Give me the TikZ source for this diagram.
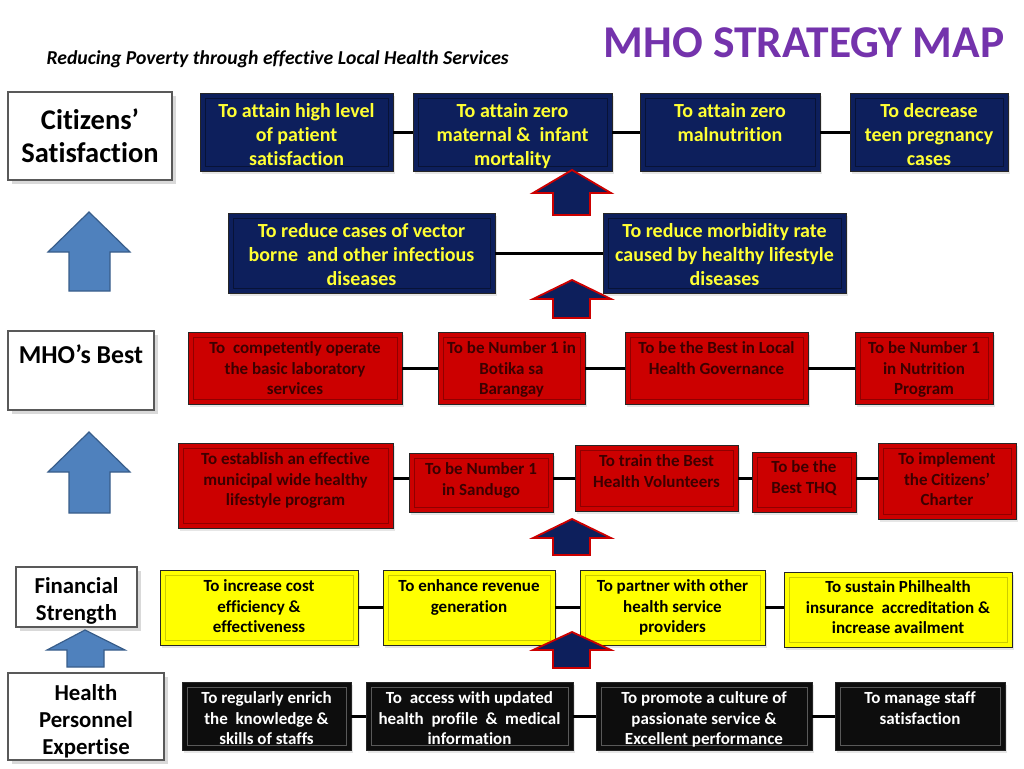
\documentclass[tikz,border=0pt]{standalone}
\usepackage{fontspec}
\setmainfont[Ligatures=NoCommon]{Carlito}
\usetikzlibrary{calc,shadows}
\definecolor{navyfill}{HTML}{0D1F5C}
\definecolor{navytext}{HTML}{FFFF33}
\definecolor{redfill}{HTML}{CC0000}
\definecolor{redtext}{HTML}{3C0000}
\definecolor{yelfill}{HTML}{FFFF00}
\definecolor{arrowblue}{HTML}{4F81BD}
\definecolor{arrowedge}{HTML}{385D8A}
\definecolor{titlepurple}{HTML}{7433AC}
\begin{document}
\begin{tikzpicture}[x=1pt,y=-1pt,
	catbox/.style={draw=gray!70!black, line width=1.2pt, fill=white, inner sep=0pt, align=center,
		drop shadow={opacity=0.3, shadow xshift=4pt, shadow yshift=-4pt}, text=black},
	bevel/.style={path picture={\draw[#1, line width=1pt]
		($(path picture bounding box.south west)+(5,-5)$) rectangle
		($(path picture bounding box.north east)+(-5,5)$);}},
	goal/.style={draw=black!85, line width=0.8pt, inner sep=0pt,
		drop shadow={opacity=0.2, shadow xshift=2pt, shadow yshift=-3pt}},
	navybox/.style={goal, fill=navyfill, bevel=navyfill!60!black},
	redbox/.style={goal, fill=redfill, bevel=redfill!70!black},
	yelbox/.style={goal, fill=yelfill, bevel=yelfill!80!black},
	blkbox/.style={goal, fill=black!95, bevel=black!65},
	txt/.style={anchor=north, align=center, inner sep=0pt},
	cattxt/.style={align=center, inner sep=0pt, font=\fontsize{22.8}{27}\selectfont\bfseries},
	navytxt/.style={txt, text=navytext, font=\fontsize{20}{24}\selectfont\bfseries},
	redtxt/.style={txt, text=redtext, font=\fontsize{17}{20.5}\selectfont\bfseries},
	yeltxt/.style={txt, text=black, font=\fontsize{17}{20.5}\selectfont\bfseries},
	blktxt/.style={txt, text=white, font=\fontsize{17}{20.5}\selectfont\bfseries},
	link/.style={line width=3pt, black},
	bigup/.style={fill=arrowblue, draw=arrowedge, line width=1.2pt},
	smallup/.style={fill=navyfill, draw=red!80!black, line width=1.8pt}]
	\useasboundingbox (0,0) rectangle (1024,768);

	% heading
	\node[font=\fontsize{45.5}{46}\selectfont\bfseries, text=titlepurple] (title) at (804,43) {MHO STRATEGY MAP};
	\node[anchor=west, font=\fontsize{19.7}{22}\selectfont\bfseries\itshape] (sub) at (43,59) {Reducing Poverty through effective Local Health Services};

	% perspectives
	\node[catbox, minimum width=164, minimum height=88, font=\fontsize{28.5}{33}\selectfont\bfseries] (cit) at (90,136) {Citizens’\\Satisfaction};
	\node[catbox, minimum width=146, minimum height=79] (best) at (81,370.5) {};
	\node[txt, font=\fontsize{25.8}{28}\selectfont\bfseries] (besttxt) at ([yshift=-14pt]best.north) {MHO’s Best};
	\node[catbox, minimum width=121, minimum height=60] (fin) at (76.5,597) {};
	\node[cattxt] (fintxt) at ([yshift=-4pt]fin.center) {Financial\\Strength};
	\node[catbox, minimum width=156, minimum height=87] (hpe) at (86,716.5) {};
	\node[cattxt] (hpetxt) at ([yshift=-5pt]hpe.center) {Health\\Personnel\\Expertise};

	\draw[bigup] (89,212) -- (130,252) -- (110,252) -- (110,291) -- (69,291) -- (69,252) -- (48,252) -- cycle;
	\draw[bigup] (89,432) -- (130,472) -- (110,472) -- (110,513) -- (69,513) -- (69,472) -- (48,472) -- cycle;
	\draw[bigup] (85,630) -- (125,650) -- (104,650) -- (104,667) -- (67,667) -- (67,650) -- (47,650) -- cycle;

	% row 1
	\node[navybox, minimum width=193, minimum height=78] (sat) at (296.5,132) {};
	\node[navybox, minimum width=199, minimum height=78] (mat) at (512.5,132) {};
	\node[navybox, minimum width=180, minimum height=78] (mal) at (730,132) {};
	\node[navybox, minimum width=158, minimum height=78] (teen) at (929,132) {};
	\node[navytxt] (sattxt) at ([yshift=-10.5pt]sat.north) {To attain high level\\of patient\\satisfaction};
	\node[navytxt] (mattxt) at ([yshift=-10.5pt]mat.north) {To attain zero\\maternal \& \ infant\\mortality};
	\node[navytxt] (maltxt) at ([yshift=-10.5pt]mal.north) {To attain zero\\malnutrition};
	\node[navytxt] (teentxt) at ([yshift=-10.5pt]teen.north) {To decrease\\teen pregnancy\\cases};
	\draw[link] (sat) -- (mat);
	\draw[link] (mat) -- (mal);
	\draw[link] (mal) -- (teen);

	% row 2
	\node[navybox, minimum width=267, minimum height=80] (vec) at (361.5,253) {};
	\node[navybox, minimum width=243, minimum height=80] (morb) at (724.5,253) {};
	\node[navytxt] (vectxt) at ([yshift=-10.5pt]vec.north) {To reduce cases of vector\\borne \ and other infectious\\diseases};
	\node[navytxt] (morbtxt) at ([yshift=-10.5pt]morb.north) {To reduce morbidity rate\\caused by healthy lifestyle\\diseases};
	\draw[link] (vec) -- (morb);

	% row 3
	\node[redbox, minimum width=214, minimum height=72] (lab) at (295,368) {};
	\node[redbox, minimum width=147, minimum height=72] (bot) at (511.5,368) {};
	\node[redbox, minimum width=183, minimum height=72] (gov) at (716.5,368) {};
	\node[redbox, minimum width=138, minimum height=72] (nut) at (924,368) {};
	\node[redtxt] (labtxt) at ([yshift=-10pt]lab.north) {To \ competently operate\\the basic laboratory\\services};
	\node[redtxt] (bottxt) at ([yshift=-10pt]bot.north) {To be Number 1 in\\Botika sa\\Barangay};
	\node[redtxt] (govtxt) at ([yshift=-10pt]gov.north) {To be the Best in Local\\Health Governance};
	\node[redtxt] (nuttxt) at ([yshift=-10pt]nut.north) {To be Number 1\\in Nutrition\\Program};
	\draw[link] (lab) -- (bot);
	\draw[link] (bot) -- (gov);
	\draw[link] (gov) -- (nut);

	% row 4
	\node[redbox, minimum width=215, minimum height=85] (est) at (285.5,485.5) {};
	\node[redbox, minimum width=144, minimum height=59] (sand) at (481,482.5) {};
	\node[redbox, minimum width=163, minimum height=66] (vol) at (656.5,478) {};
	\node[redbox, minimum width=104, minimum height=60] (thq) at (804,482) {};
	\node[redbox, minimum width=138, minimum height=76] (chart) at (947,481) {};
	\node[redtxt] (esttxt) at ([yshift=-10pt]est.north) {To establish an effective\\municipal wide healthy\\lifestyle program};
	\node[redtxt] (sandtxt) at ([yshift=-10pt]sand.north) {To be Number 1\\in Sandugo};
	\node[redtxt] (voltxt) at ([yshift=-10pt]vol.north) {To train the Best\\Health Volunteers};
	\node[redtxt] (thqtxt) at ([yshift=-9pt]thq.north) {To be the\\Best THQ};
	\node[redtxt] (charttxt) at ([yshift=-10pt]chart.north) {To implement\\the Citizens’\\Charter};
	\draw[link] (est.east |- 0,478) -- (sand.west |- 0,478);
	\draw[link] (sand.east |- 0,478) -- (vol.west |- 0,478);
	\draw[link] (vol.east |- 0,478) -- (thq.west |- 0,478);
	\draw[link] (thq.east |- 0,478) -- (chart.west |- 0,478);

	% row 5
	\node[yelbox, minimum width=198, minimum height=75] (cost) at (259,607.5) {};
	\node[yelbox, minimum width=172, minimum height=75] (rev) at (469,607.5) {};
	\node[yelbox, minimum width=185, minimum height=75] (part) at (672.5,607.5) {};
	\node[yelbox, minimum width=228, minimum height=75] (phil) at (898,609.5) {};
	\node[yeltxt] (costtxt) at ([yshift=-10pt]cost.north) {To increase cost\\efficiency \&\\effectiveness};
	\node[yeltxt] (revtxt) at ([yshift=-10pt]rev.north) {To enhance revenue\\generation};
	\node[yeltxt] (parttxt) at ([yshift=-10pt]part.north) {To partner with other\\health service\\providers};
	\node[yeltxt] (philtxt) at ([yshift=-9pt]phil.north) {To sustain Philhealth\\insurance \ accreditation \&\\increase availment};
	\draw[link] (cost) -- (rev);
	\draw[link] (rev) -- (part);
	\draw[link] (part.east) -- (part.east -| phil.west);

	% row 6
	\node[blkbox, minimum width=169, minimum height=68] (enr) at (266.5,716) {};
	\node[blkbox, minimum width=207, minimum height=68] (acc) at (469.5,716) {};
	\node[blkbox, minimum width=216, minimum height=68] (cul) at (704,716) {};
	\node[blkbox, minimum width=170, minimum height=68] (man) at (920,716) {};
	\node[blktxt] (enrtxt) at ([yshift=-10pt]enr.north) {To regularly enrich\\the \ knowledge \&\\skills of staffs};
	\node[blktxt] (acctxt) at ([yshift=-10pt]acc.north) {To \ access with updated\\health \ profile \ \& \ medical\\information};
	\node[blktxt] (cultxt) at ([yshift=-10pt]cul.north) {To promote a culture of\\passionate service \&\\Excellent performance};
	\node[blktxt] (mantxt) at ([yshift=-10pt]man.north) {To manage staff\\satisfaction};
	\draw[link] (enr) -- (acc);
	\draw[link] (acc) -- (cul);
	\draw[link] (cul) -- (man);

	% arrows between rows
	\foreach \t/\b/\e in {170/193/215, 280/299/318, 519/538/555, 632/650/668}
		\draw[smallup] (572,\t) -- (611,\b) -- (590,\b) -- (590,\e) -- (553,\e) -- (553,\b) -- (533,\b) -- cycle;
\end{tikzpicture}
\end{document}
